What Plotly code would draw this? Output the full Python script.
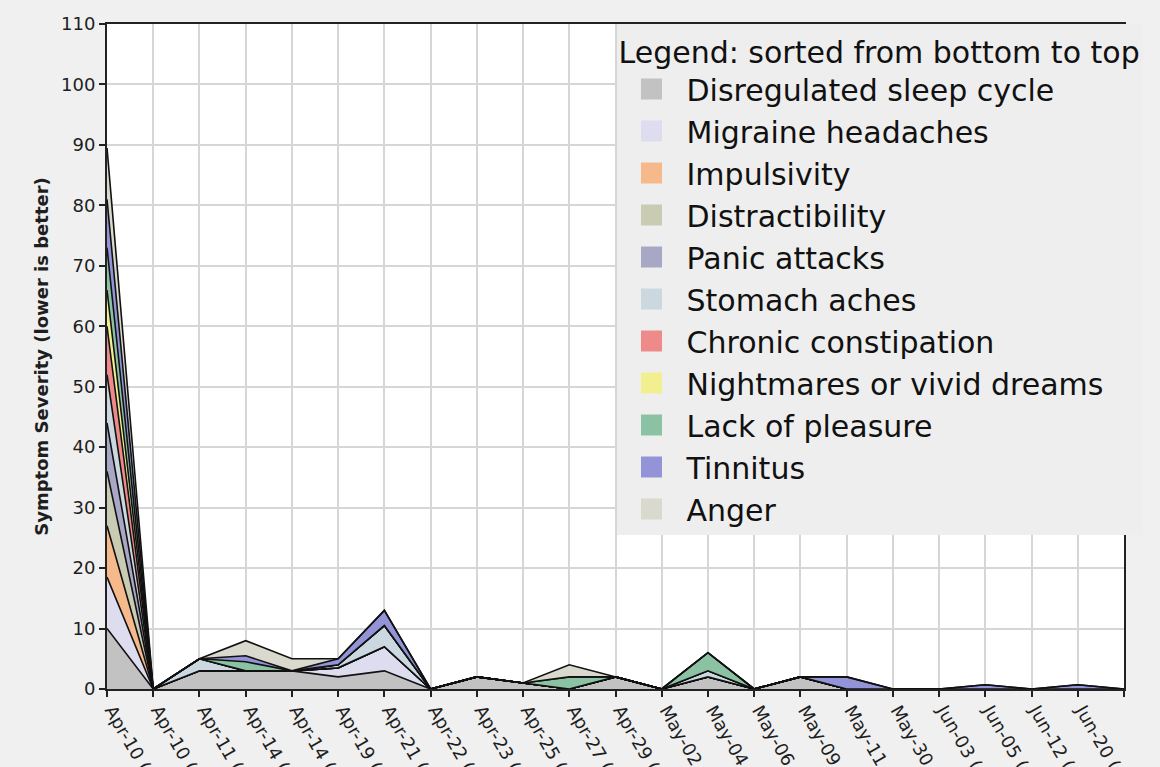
import plotly.graph_objects as go

# x-axis dates (two entries on Apr-10 and Apr-14)
dates = [
    "Apr-10 (", "Apr-10 (", "Apr-11 (", "Apr-14 (", "Apr-14 (", "Apr-19 (", "Apr-21 (",
    "Apr-22 (", "Apr-23 (", "Apr-25 (", "Apr-27 (", "Apr-29 (", "May-02 (", "May-04 (",
    "May-06 (", "May-09 (", "May-11 (", "May-30 (", "Jun-03 (", "Jun-05 (", "Jun-12 (",
    "Jun-20 (", "Jun-26 (",
]

# symptom series, stacked from bottom to top
sleep_cycle   = [10, 0, 3, 3, 3, 2, 3, 0, 2, 1, 0, 2, 0, 2, 0, 2, 0, 0, 0, 0, 0, 0, 0]
migraine      = [8.5, 0, 0, 0, 0, 1.5, 4, 0, 0, 0, 0, 0, 0, 0, 0, 0, 0, 0, 0, 0, 0, 0, 0]
impulsivity   = [8.5, 0, 0, 0, 0, 0, 0, 0, 0, 0, 0, 0, 0, 0, 0, 0, 0, 0, 0, 0, 0, 0, 0]
distract      = [9, 0, 0, 0, 0, 0, 0, 0, 0, 0, 0, 0, 0, 0, 0, 0, 0, 0, 0, 0, 0, 0, 0]
panic         = [8, 0, 0, 0, 0, 0, 0, 0, 0, 0, 0, 0, 0, 0, 0, 0, 0, 0, 0, 0, 0, 0, 0]
stomach       = [8, 0, 2, 0, 0, 0.5, 3.5, 0, 0, 0, 0, 0, 0, 1, 0, 0, 0, 0, 0, 0, 0, 0, 0]
constipation  = [8, 0, 0, 0, 0, 0, 0, 0, 0, 0, 0, 0, 0, 0, 0, 0, 0, 0, 0, 0, 0, 0, 0]
nightmares    = [6, 0, 0, 0, 0, 0, 0, 0, 0, 0, 0, 0, 0, 0, 0, 0, 0, 0, 0, 0, 0, 0, 0]
lack_pleasure = [7, 0, 0, 1.5, 0, 0, 0, 0, 0, 0, 2, 0, 0, 3, 0, 0, 0, 0, 0, 0, 0, 0, 0]
tinnitus      = [8, 0, 0, 1, 0, 1, 2.5, 0, 0, 0, 0, 0, 0, 0, 0, 0, 2, 0, 0, 0.7, 0, 0.7, 0]
anger         = [8.5, 0, 0, 2.5, 2, 0, 0, 0, 0, 0, 2, 0, 0, 0, 0, 0, 0, 0, 0, 0, 0, 0, 0]

series = [
    ("Disregulated sleep cycle", sleep_cycle, "#c2c2c2"),
    ("Migraine headaches", migraine, "#dedcef"),
    ("Impulsivity", impulsivity, "#f5b98c"),
    ("Distractibility", distract, "#c9ccb2"),
    ("Panic attacks", panic, "#a9a7c6"),
    ("Stomach aches", stomach, "#cbd8e0"),
    ("Chronic constipation", constipation, "#ef8a8a"),
    ("Nightmares or vivid dreams", nightmares, "#f1ef8f"),
    ("Lack of pleasure", lack_pleasure, "#8cc2a4"),
    ("Tinnitus", tinnitus, "#9394d8"),
    ("Anger", anger, "#d9d9cd"),
]

FONT = "DejaVu Sans, Verdana, sans-serif"
INK = "#1e1e1e"
x = list(range(len(dates)))

fig = go.Figure()
for name, vals, color in series:
    fig.add_trace(
        go.Scatter(
            x=x,
            y=vals,
            mode="lines",
            stackgroup="one",
            fillcolor=color,
            line=dict(color="#111111", width=1.6),
            name=name,
            showlegend=False,
        )
    )

# legend entries with square swatches
for name, vals, color in series:
    fig.add_trace(
        go.Scatter(
            x=[None],
            y=[None],
            mode="markers",
            marker=dict(symbol="square", size=16, color=color, line=dict(color=color, width=5)),
            name=name,
        )
    )

fig.update_layout(
    width=1160,
    height=767,
    paper_bgcolor="#f0f0f0",
    plot_bgcolor="#ffffff",
    margin=dict(l=107, r=36, t=24, b=78, autoexpand=False),
    font=dict(family=FONT, color=INK),
    legend=dict(
        title=dict(text="Legend: sorted from bottom to top", font=dict(size=30, family=FONT, color="#111111")),
        font=dict(size=30, family=FONT, color="#111111"),
        bgcolor="#eeeeee",
        x=0.501,
        xanchor="left",
        y=1.0,
        yanchor="top",
        maxheight=720,
        traceorder="normal",
        itemwidth=60,
        tracegroupgap=0,
    ),
)
fig.update_xaxes(
    range=[0, len(dates) - 1],
    tickvals=x,
    ticktext=dates,
    tickangle=60,
    tickfont=dict(size=18, family=FONT, color=INK),
    ticklabelstandoff=-4,
    ticklabelshift=5,
    showgrid=True,
    gridcolor="#d6d6d6",
    gridwidth=2,
    showline=True,
    linecolor="#222222",
    linewidth=2,
    mirror=True,
    ticks="outside",
    ticklen=6,
    tickwidth=2,
    tickcolor="#222222",
    zeroline=False,
    automargin=False,
)
fig.update_yaxes(
    range=[0, 110],
    dtick=10,
    tickfont=dict(size=18, family=FONT, color=INK),
    title=dict(
        text="<b>Symptom Severity (lower is better)</b>",
        font=dict(size=18, family=FONT, color=INK),
        standoff=8,
    ),
    showgrid=True,
    gridcolor="#d6d6d6",
    gridwidth=2,
    showline=True,
    linecolor="#222222",
    linewidth=2,
    mirror=True,
    ticks="outside",
    ticklen=6,
    tickwidth=2,
    tickcolor="#222222",
    zeroline=False,
    automargin=False,
)

fig.write_html(
    "out.html",
    config={"displayModeBar": False},
    post_script="document.body.style.margin='0';document.body.style.background='#f0f0f0';",
)
